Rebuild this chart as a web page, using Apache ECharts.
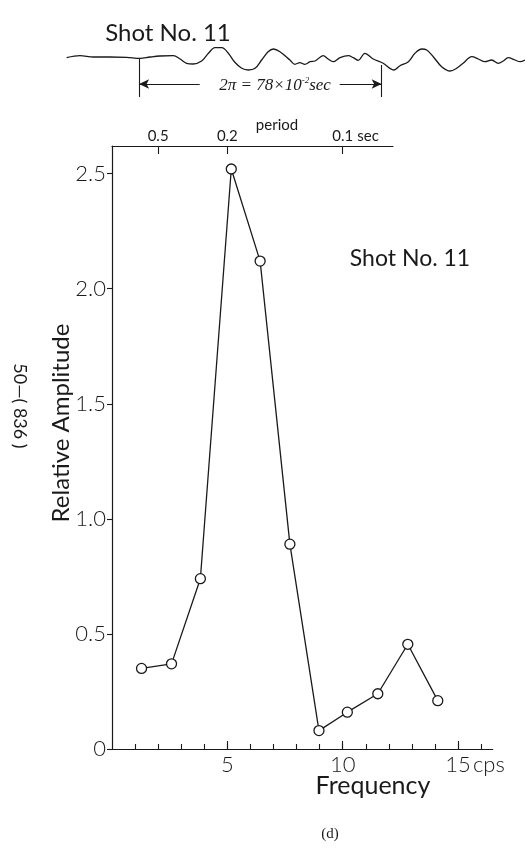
<!DOCTYPE html>
<html>
<head>
<meta charset="utf-8">
<script src="https://cdn.jsdelivr.net/npm/echarts@6/dist/echarts.min.js"></script>
<style>
  html, body { margin: 0; padding: 0; background: #fff; }
  #main { width: 525px; height: 854px; }
</style>
</head>
<body>
<div id="main"></div>
<script>
// spectrum, Shot No. 11
var freqs = [1.28, 2.58, 3.83, 5.17, 6.42, 7.71, 8.97, 10.2, 11.52, 12.82, 14.12];
var amps  = [0.35, 0.37, 0.74, 2.52, 2.12, 0.89, 0.08, 0.16, 0.24, 0.455, 0.21];

var ampTicks = [0, 0.5, 1.0, 1.5, 2.0, 2.5];
var freqMinorTicks = [1, 2, 3, 4, 5, 6, 7, 8, 9, 10, 11, 12, 13, 14, 15, 16];
var freqMajorTicks = [5, 10, 15];
var periodTicks = [2, 5, 10];
var periodLabels = ['0.5', '0.2', '0.1'];

// seismogram trace (time in 10^-2 sec, amplitude arbitrary)
var waveT = [0.2, 4.5, 8.8, 14.1, 19.5, 23.8, 27.0, 30.2, 34.5, 36.7, 38.8, 40.9, 43.6, 45.8, 47.9,
  50.1, 52.2, 54.3, 56.5, 58.6, 60.8, 62.9, 65.0, 66.7, 68.8, 72.0, 73.6, 75.2, 76.8, 78.5, 80.1,
  82.7, 84.3, 85.9, 88.1, 90.8, 92.4, 94.0, 96.1, 98.8, 102.0, 105.5, 107.4, 110.1, 112.2, 114.4,
  116.0, 118.1, 120.8, 123.5, 125.6, 127.7, 130.5, 132.6, 134.7, 136.9, 139.0, 140.6, 142.2, 144.4,
  146.0, 147.6];
var waveA = [-0.7, 1.3, 0, 0, -0.3, -1.3, 0, 1, 1.3, -2, -6.3, -7, -4, 3.7, 9.3,
  9.3, 3.7, -5.3, -11.3, -13, -11.3, -3, 5.3, 8, 5.3, -3, -7.3, -5.7, -7.3, -4.7, -4,
  1.3, -2, -4.7, -0.7, 1.3, -0.7, -3.3, 3.7, -2, -6.3, -13, -8.7, -4.7, 3.7, 8,
  7, 0.3, -9.7, -14, -11.3, -6.3, 0.3, -2, -4.7, -3, -6.3, -4, -0.7, -3,
  -4.7, -3];
var markerT = [23.5, 101.5];
var markerTop = [-1, -8];
var markerBottom = -40;
var arrowA = -27;
var arrowGap = [43, 88];

var ink = '#1a1a1a';
var numFont = 'Lato';

var mainData = freqs.map(function (f, i) { return [f, amps[i]]; });
var waveData = waveT.map(function (t, i) { return [t, waveA[i]]; });

var myChart = echarts.init(document.getElementById('main'));
var option = {
  animation: false,
  backgroundColor: '#fff',
  grid: [
    { left: 112, top: 146, right: 32.3, bottom: 105 },
    { left: 112, top: 146, width: 281, height: 1 },
    { left: 66, top: 45, right: 0, height: 53 }
  ],
  xAxis: [
    {
      gridIndex: 0, type: 'value', min: 0, max: 16.5, position: 'bottom',
      axisLine: { onZero: false, lineStyle: { color: ink, width: 1.2 } },
      axisTick: { inside: true, length: 5, customValues: freqMinorTicks, lineStyle: { color: ink, width: 1.1 } },
      axisLabel: {
        customValues: freqMajorTicks, margin: 5, color: ink,
        fontFamily: numFont, fontWeight: 300, fontSize: 22,
        formatter: function (v) {
          return v === 15 ? '{n|15}{u|cps}' : String(v);
        },
        rich: {
          n: { fontFamily: numFont, fontWeight: 300, fontSize: 22, color: ink, padding: [0, 0, 0, 36] },
          u: { fontFamily: numFont, fontWeight: 300, fontSize: 22, color: ink, width: 36, align: 'left' }
        }
      },
      splitLine: { show: false }
    },
    {
      gridIndex: 0, type: 'value', min: 0, max: 16.5, position: 'bottom',
      axisLine: { show: false, onZero: false },
      axisTick: { inside: true, length: 8, customValues: freqMajorTicks, lineStyle: { color: ink, width: 1.1 } },
      axisLabel: { show: false },
      splitLine: { show: false }
    },
    {
      gridIndex: 1, type: 'value', min: 0, max: 12.18, position: 'top',
      axisLine: { onZero: false, lineStyle: { color: ink, width: 1.2 } },
      axisTick: { inside: true, length: 8, customValues: periodTicks, lineStyle: { color: ink, width: 1.1 } },
      axisLabel: {
        customValues: periodTicks, margin: 2, color: ink,
        fontFamily: numFont, fontSize: 15,
        formatter: function (v) {
          var i = periodTicks.indexOf(v);
          if (i === periodTicks.length - 1) return '{p|' + periodLabels[i] + '}{u| sec}';
          return periodLabels[i];
        },
        rich: {
          p: { fontFamily: numFont, fontSize: 15, color: ink, padding: [0, 0, 0, 26] },
          u: { fontFamily: numFont, fontSize: 15, color: ink, width: 26, align: 'left' }
        }
      },
      splitLine: { show: false }
    },
    { gridIndex: 2, type: 'value', min: 0, max: 147.6, show: false }
  ],
  yAxis: [
    {
      gridIndex: 0, type: 'value', min: 0, max: 2.62,
      axisLine: { show: true, lineStyle: { color: ink, width: 1.2 } },
      axisTick: { show: true, length: 5, customValues: ampTicks, lineStyle: { color: ink, width: 1.1 } },
      axisLabel: {
        customValues: ampTicks, margin: 6, color: ink,
        fontFamily: numFont, fontWeight: 300, fontSize: 22,
        formatter: function (v) { return v === 0 ? '0' : v.toFixed(1); }
      },
      splitLine: { show: false }
    },
    { gridIndex: 1, type: 'value', min: 0, max: 1, show: false },
    { gridIndex: 2, type: 'value', min: -41, max: 12, show: false }
  ],
  series: [
    {
      name: 'Relative Amplitude',
      type: 'line',
      xAxisIndex: 0, yAxisIndex: 0,
      data: mainData,
      symbol: 'circle', symbolSize: 10,
      itemStyle: { color: '#fff', borderColor: ink, borderWidth: 1.3 },
      lineStyle: { color: ink, width: 1.3 },
      z: 3
    },
    {
      name: 'trace',
      type: 'line',
      xAxisIndex: 3, yAxisIndex: 2,
      data: waveData,
      smooth: 0.35,
      showSymbol: false,
      lineStyle: { color: ink, width: 1.3 },
      markLine: {
        silent: true,
        symbolSize: [7, 10],
        label: { show: false },
        lineStyle: { color: ink, width: 1.1, type: 'solid' },
        data: [
          [{ coord: [markerT[0], markerTop[0]], symbol: 'none' }, { coord: [markerT[0], markerBottom], symbol: 'none' }],
          [{ coord: [markerT[1], markerTop[1]], symbol: 'none' }, { coord: [markerT[1], markerBottom], symbol: 'none' }],
          [{ coord: [markerT[0], arrowA], symbol: 'arrow' }, { coord: [arrowGap[0], arrowA], symbol: 'none' }],
          [{ coord: [arrowGap[1], arrowA], symbol: 'none' }, { coord: [markerT[1], arrowA], symbol: 'arrow' }]
        ]
      }
    }
  ],
  graphic: [
    { type: 'text', x: 168, y: 33, style: { text: 'Shot No. 11', fill: ink, fontFamily: 'Lato', fontSize: 24, textAlign: 'center', textVerticalAlign: 'middle' } },
    { type: 'text', x: 275, y: 86, style: {
        text: '{m|2π = 78×10}{s|-2}{m|sec}', textAlign: 'center', textVerticalAlign: 'middle',
        rich: {
          m: { fontFamily: 'Liberation Serif', fontStyle: 'italic', fontSize: 17, fill: ink },
          s: { fontFamily: 'Liberation Serif', fontStyle: 'italic', fontSize: 9, fill: ink, padding: [0, 0, 10, 0] }
        }
      } },
    { type: 'text', x: 277, y: 125, style: { text: 'period', fill: ink, fontFamily: 'Lato', fontSize: 15, textAlign: 'center', textVerticalAlign: 'middle' } },
    { type: 'text', x: 410, y: 259, style: { text: 'Shot No. 11', fill: ink, fontFamily: 'Lato', fontSize: 23, textAlign: 'center', textVerticalAlign: 'middle' } },
    { type: 'text', x: 61, y: 423, rotation: Math.PI / 2, style: { text: 'Relative Amplitude', fill: ink, fontFamily: 'Lato', fontSize: 24, textAlign: 'center', textVerticalAlign: 'middle' } },
    { type: 'text', x: 20, y: 406, rotation: -Math.PI / 2, style: { text: '50—( 836 )', fill: ink, fontFamily: 'Lato', fontSize: 18, textAlign: 'center', textVerticalAlign: 'middle' } },
    { type: 'text', x: 373, y: 786, style: { text: 'Frequency', fill: ink, fontFamily: 'Lato', fontSize: 25, textAlign: 'center', textVerticalAlign: 'middle' } },
    { type: 'text', x: 330, y: 834, style: { text: '(d)', fill: ink, fontFamily: 'Liberation Serif', fontSize: 15, textAlign: 'center', textVerticalAlign: 'middle' } }
  ]
};
myChart.setOption(option);
</script>
</body>
</html>
